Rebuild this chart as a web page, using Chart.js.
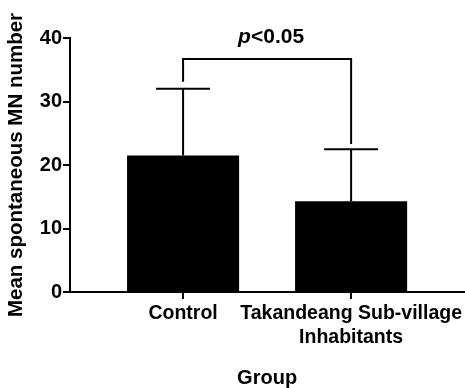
<!DOCTYPE html>
<html>
<head>
<meta charset="utf-8">
<script src="https://cdn.jsdelivr.net/npm/chart.js@4"></script>
<style>
  html, body { margin: 0; padding: 0; background: #fff; }
  #wrap { width: 465px; height: 388px; }
</style>
</head>
<body>
<div id="wrap"><canvas id="chart"></canvas></div>
<script>
// data
const groups = ['Control', ['Takandeang Sub-village', 'Inhabitants']];
const groupPos = [1, 2];
const means = [21.5, 14.3];
const sdUpper = [32.0, 22.5];
const bracketTop = 36.7;
const bracketLegEnds = [33.1, 23.3];
const pLabel = ['p', '<0.05'];
const yTicks = [0, 10, 20, 30, 40];

const FONT = '"Liberation Sans", Arial, Helvetica, sans-serif';

const errorBars = {
  id: 'errorBars',
  afterDatasetsDraw(chart) {
    const ctx = chart.ctx;
    const x = chart.scales.x, y = chart.scales.y;
    ctx.save();
    ctx.strokeStyle = '#000';
    ctx.lineWidth = 2;
    ctx.lineCap = 'butt';
    // upper error bars with caps
    groupPos.forEach((g, i) => {
      const px = x.getPixelForValue(g);
      const top = y.getPixelForValue(sdUpper[i]);
      ctx.beginPath();
      ctx.moveTo(px, y.getPixelForValue(means[i]));
      ctx.lineTo(px, top);
      ctx.moveTo(px - 27, top);
      ctx.lineTo(px + 27, top);
      ctx.stroke();
    });
    // significance bracket
    const x1 = x.getPixelForValue(groupPos[0]);
    const x2 = x.getPixelForValue(groupPos[1]);
    const by = y.getPixelForValue(bracketTop);
    ctx.beginPath();
    ctx.moveTo(x1, y.getPixelForValue(bracketLegEnds[0]));
    ctx.lineTo(x1, by);
    ctx.lineTo(x2, by);
    ctx.lineTo(x2, y.getPixelForValue(bracketLegEnds[1]));
    ctx.stroke();
    // p<0.05 label, italic p
    const f1 = 'italic bold 21px ' + FONT;
    const f2 = 'bold 21px ' + FONT;
    ctx.font = f1;
    const w1 = ctx.measureText(pLabel[0]).width;
    ctx.font = f2;
    const w2 = ctx.measureText(pLabel[1]).width;
    let sx = (x1 + x2) / 2 + 4 - (w1 + w2) / 2;
    const ty = by - 22;
    ctx.fillStyle = '#000';
    ctx.textBaseline = 'middle';
    ctx.textAlign = 'left';
    ctx.font = f1;
    ctx.fillText(pLabel[0], sx, ty);
    ctx.font = f2;
    ctx.fillText(pLabel[1], sx + w1, ty);
    ctx.restore();
  }
};

const ctx = document.getElementById('chart').getContext('2d');
new Chart(ctx, {
  type: 'bar',
  data: {
    datasets: [{
      data: groupPos.map((g, i) => ({ x: g, y: means[i] })),
      backgroundColor: '#000',
      borderWidth: 0,
      categoryPercentage: 1,
      barPercentage: 0.667
    }]
  },
  options: {
    responsive: true,
    maintainAspectRatio: false,
    animation: false,
    layout: { padding: { top: 38, right: 0, bottom: 0, left: 0 } },
    plugins: {
      legend: { display: false },
      tooltip: { enabled: false }
    },
    scales: {
      x: {
        type: 'linear',
        min: 0.327,
        max: 2.673,
        offset: false,
        afterBuildTicks: (axis) => { axis.ticks = groupPos.map(v => ({ value: v })); },
        afterFit: (axis) => { axis.height = 96; },
        grid: { offset: false, drawOnChartArea: false, drawTicks: true, tickLength: 7, color: '#000', lineWidth: 2 },
        border: { display: true, color: '#000', width: 2 },
        ticks: {
          padding: 3,
          color: '#000',
          maxRotation: 0,
          autoSkip: false,
          font: { family: FONT, size: 19.5, weight: 'bold', lineHeight: 1.22 },
          callback: (v) => groups[groupPos.indexOf(v)]
        },
        title: {
          display: true,
          text: 'Group',
          color: '#000',
          padding: { top: 0, bottom: 0 },
          font: { family: FONT, size: 20, weight: 'bold', lineHeight: 1 }
        }
      },
      y: {
        min: 0,
        max: 40,
        afterBuildTicks: (axis) => { axis.ticks = yTicks.map(v => ({ value: v })); },
        afterFit: (axis) => { axis.width = 70; },
        grid: { drawOnChartArea: false, drawTicks: true, tickLength: 7, color: '#000', lineWidth: 2 },
        border: { display: true, color: '#000', width: 2 },
        ticks: {
          padding: 1,
          color: '#000',
          font: { family: FONT, size: 20, weight: 'bold' }
        },
        title: {
          display: true,
          text: 'Mean spontaneous MN number',
          color: '#000',
          padding: { top: 4, bottom: 0 },
          font: { family: FONT, size: 20.5, weight: 'bold', lineHeight: 1.2 }
        }
      }
    }
  },
  plugins: [errorBars]
});
</script>
</body>
</html>
